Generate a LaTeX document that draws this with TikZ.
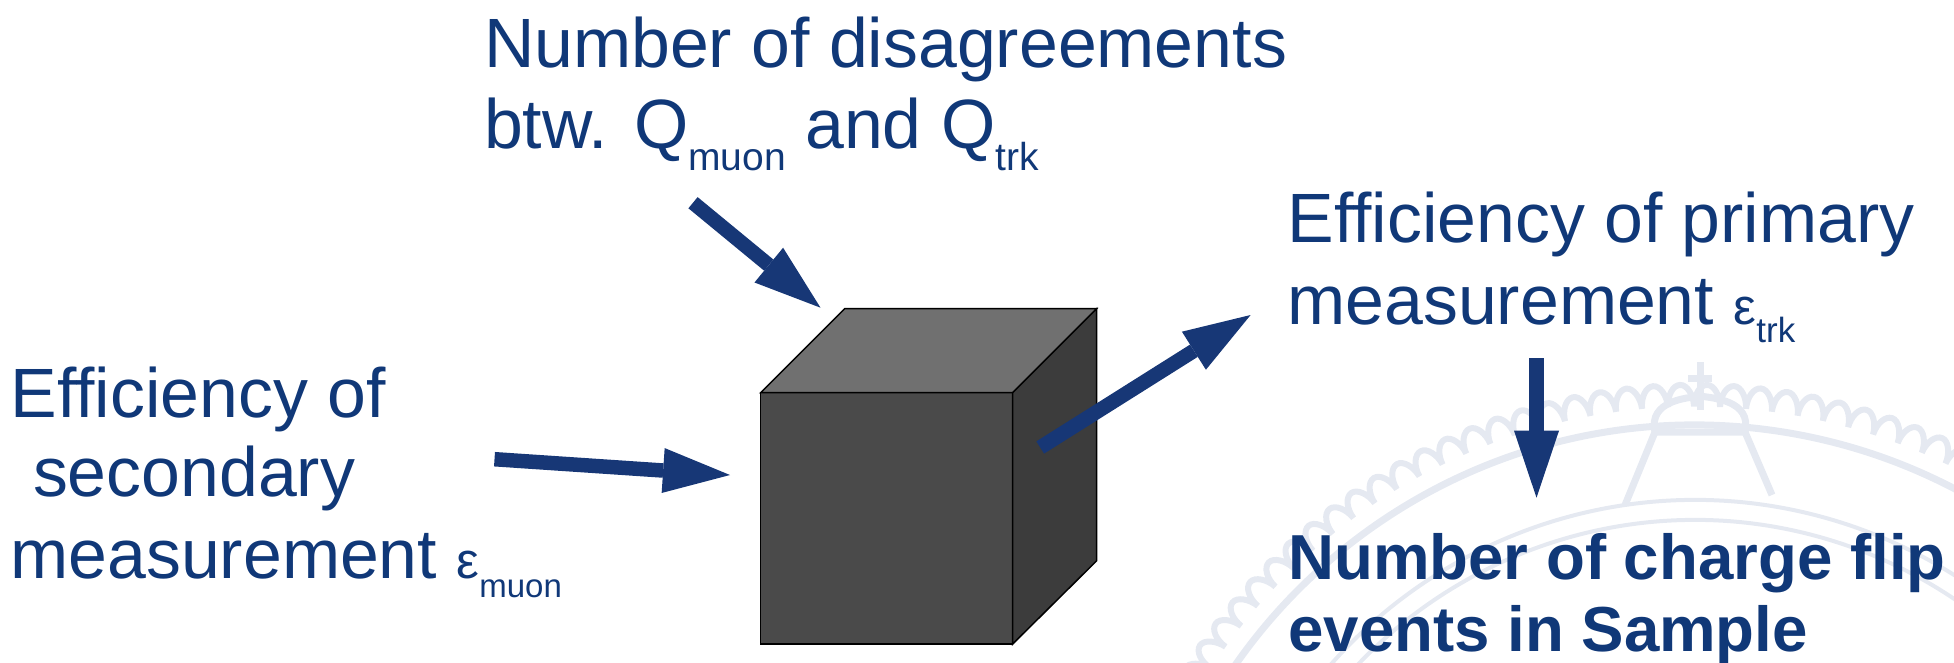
\documentclass[tikz,border=0pt]{standalone}
\usepackage{fontspec}
\setmainfont{Liberation Sans}
\usetikzlibrary{arrows.meta,decorations.pathmorphing}
\definecolor{txtblue}{RGB}{16,56,120}
\definecolor{arrblue}{RGB}{23,55,118}
\definecolor{wmark}{RGB}{229,233,241}
\definecolor{topgray}{HTML}{707070}
\definecolor{frontgray}{HTML}{4A4A4A}
\definecolor{sidegray}{HTML}{3C3C3C}
\newcommand{\lowsub}[3]{\raisebox{-#1pt}{\fontsize{#2}{#2}\selectfont #3}}
\newcommand{\greekeps}{{\fontsize{51}{51}\selectfont ε}}
\begin{document}
\begin{tikzpicture}[x=1pt,y=-1pt,
  lbl/.style={inner sep=0pt, outer sep=0pt, anchor=base west, text=txtblue, font=\fontsize{69.8}{80}\selectfont},
  blbl/.style={lbl, font=\fontsize{63.6}{72}\selectfont\bfseries},
  arr/.style={draw=arrblue, line width=14.5pt, -{Triangle[length=67pt,width=45pt,line width=0pt]}},
  face/.style={draw=black, line width=1.5pt, line join=miter},
  wm/.style={draw=wmark, line width=7pt}]
\useasboundingbox (0,0) rectangle (1954,662);

% faint seal watermark
\begin{scope}
\clip (0,0) rectangle (1954,662);
\coordinate (sealc) at (1695,985);
\draw[wm] (sealc) ++(-170:560) arc[start angle=-170, end angle=-10, radius=560];
\draw[wm, line width=6pt, decorate, decoration={bumps, segment length=52pt, amplitude=22pt}]
  (sealc) ++(-170:578) arc[start angle=-170, end angle=-10, radius=578];
\draw[wm, line width=4pt] (sealc) ++(-160:485) arc[start angle=-160, end angle=-20, radius=485];
\draw[wm, line width=4pt] (sealc) ++(-160:465) arc[start angle=-160, end angle=-20, radius=465];
\draw[wm] (1700,362) -- (1700,410);
\draw[wm] (1688,378) -- (1712,378);
\draw[wm] (1655,432) .. controls (1648,400) and (1688,398) .. (1700,396)
  .. controls (1712,398) and (1752,400) .. (1745,432) -- cycle;
\draw[wm] (1655,432) -- (1625,505);
\draw[wm] (1745,432) -- (1772,495);
\end{scope}

% cube
\coordinate (fa) at (760.7,392.7);
\coordinate (fb) at (1012.7,392.7);
\coordinate (fc) at (1012.7,644);
\coordinate (fd) at (760.7,644);
\coordinate (ba) at (844.7,308.7);
\coordinate (bb) at (1096.7,308.7);
\coordinate (bc) at (1096.7,560.7);
\filldraw[face, fill=frontgray] (fa) -- (fb) -- (fc) -- (fd) -- cycle;
\filldraw[face, fill=topgray] (fa) -- (ba) -- (bb) -- (fb) -- cycle;
\filldraw[face, fill=sidegray] (fb) -- (bb) -- (bc) -- (fc) -- cycle;

% arrows
\coordinate (a1s) at (693,202.7);
\coordinate (a1e) at (820.5,307.7);
\coordinate (a2s) at (494.5,459.2);
\coordinate (a2e) at (730,475);
\coordinate (a3s) at (1040.2,447.5);
\coordinate (a3e) at (1250.6,315);
\coordinate (a4s) at (1536.5,358.3);
\coordinate (a4e) at (1536.5,497.7);
\draw[arr] (a1s) -- (a1e);
\draw[arr] (a2s) -- (a2e);
\draw[arr] (a3s) -- (a3e);
\draw[arr] (a4s) -- (a4e);

% texts
\node[lbl] (t1) at (484,67.7) {Number of disagreements};
\node[lbl] (t2) at (484,148.3) {btw. Q\lowsub{22}{39}{muon} and Q\lowsub{22}{39}{trk}};
\node[lbl] (l1) at (10.5,417.7) {Efficiency of};
\node[lbl] (l2) at (33,496.7) {secondary};
\node[lbl] (l3) at (10.5,578.3) {measurement \greekeps\lowsub{19}{33}{muon}};
\node[lbl] (r1) at (1287.5,242.7) {Efficiency of primary};
\node[lbl] (r2) at (1287.5,324) {measurement \greekeps\lowsub{18}{35}{trk}};
\node[blbl] (b1) at (1288.3,579.3) {Number of charge flip};
\node[blbl] (b2) at (1288.3,651.7) {events in Sample};
\end{tikzpicture}
\end{document}
